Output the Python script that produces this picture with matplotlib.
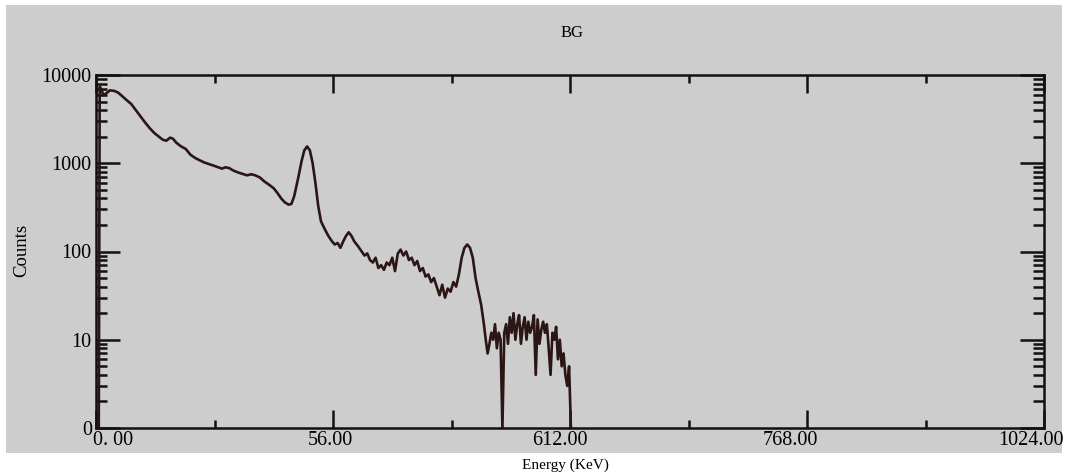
import matplotlib.pyplot as plt
import matplotlib.patches as patches
from matplotlib.ticker import FixedLocator, LogLocator, NullFormatter
from matplotlib.transforms import ScaledTranslation

# spectrum: channel (0..1024) and counts
channel = [3, 4, 6, 8, 11, 15, 20, 24, 28, 33, 38, 43, 48, 53, 58, 63, 68, 72, 76, 80,
           83, 87, 92, 97, 102, 107, 112, 117, 122, 127, 132, 136, 140, 144, 148, 153,
           158, 163, 168, 172, 177, 182, 187, 192, 196, 200, 204, 208, 211, 214, 218,
           222, 225, 228, 231, 234, 237, 240, 243, 247, 251, 255, 258, 261, 264, 267,
           270, 273, 276, 279, 283, 287, 290, 293, 296, 299, 302, 305, 308, 311, 314,
           317, 320, 323, 326, 329, 332, 335, 338, 341, 344, 347, 350, 353, 356, 359,
           362, 365, 368, 371, 374, 377, 380, 383, 386, 389, 392, 395, 398, 401, 404,
           407, 410, 413, 416, 419, 421, 423, 425, 427, 429, 431, 433, 435, 437, 439,
           441, 443, 445, 447, 449, 451, 453, 455, 457, 459, 461, 463, 465, 467, 469,
           471, 473, 475, 477, 479, 481, 483, 485, 487, 489, 491, 493, 495, 497, 499,
           501, 503, 505, 507, 509, 511, 513]
counts = [1, 7400, 6800, 5900, 6200, 6700, 6600, 6300, 5800, 5200, 4700, 4000, 3400,
          2900, 2500, 2200, 2000, 1850, 1800, 1950, 1900, 1700, 1550, 1450, 1250, 1150,
          1080, 1020, 980, 940, 900, 870, 900, 880, 830, 790, 760, 730, 750, 730, 690,
          620, 570, 520, 460, 400, 360, 340, 345, 420, 650, 1050, 1400, 1550, 1400,
          1000, 600, 330, 220, 180, 150, 130, 120, 125, 110, 130, 150, 165, 150, 130,
          115, 100, 90, 95, 80, 75, 85, 65, 70, 62, 75, 70, 85, 60, 95, 105, 90, 100,
          80, 85, 70, 78, 60, 65, 52, 55, 45, 50, 40, 32, 42, 30, 38, 35, 45, 40, 55,
          85, 110, 120, 110, 85, 50, 35, 25, 15, 10, 7, 9, 12, 10, 15, 8, 12, 10, 1,
          12, 15, 9, 18, 12, 20, 10, 15, 19, 9, 14, 18, 10, 16, 12, 14, 19, 4, 17, 9,
          13, 16, 12, 15, 8, 4, 12, 10, 14, 6, 10, 5, 7, 4, 3, 5, 1]

xtick_pos = [0, 256, 512, 768, 1024]
xtick_labels = ['0. 00', '56.00', '612.00', '768.00', '1024.00']
ytick_pos = [1, 10, 100, 1000, 10000]
ytick_labels = ['0', '10', '100', '1000', '10000']

plt.rcParams['font.family'] = ['Liberation Serif', 'DejaVu Serif']
gray = '#cdcdcd'
ink = '#111111'

fig = plt.figure(figsize=(10.71, 4.76), dpi=100)
fig.patch.set_facecolor('white')
fig.patches.append(patches.Rectangle((6 / 1071, 1 - 453 / 476), 1056 / 1071, 448 / 476,
                                     transform=fig.transFigure, facecolor=gray,
                                     edgecolor='none', zorder=-10))

ax = fig.add_axes([96 / 1071, 1 - 428 / 476, 948 / 1071, 353 / 476])
ax.set_zorder(1)
ax.set_facecolor(gray)
ax.plot(channel, counts, color='#2b1515', linewidth=1.9)

ax.set_yscale('log')
ax.set_xlim(0, 1024)
ax.set_ylim(1, 10000)

ax.xaxis.set_major_locator(FixedLocator(xtick_pos))
ax.set_xticklabels(xtick_labels)
ax.xaxis.set_minor_locator(FixedLocator([128, 384, 640, 896]))
ax.yaxis.set_major_locator(FixedLocator(ytick_pos))
ax.set_yticklabels(ytick_labels)
ax.yaxis.set_minor_locator(LogLocator(base=10, subs=range(2, 10)))
ax.yaxis.set_minor_formatter(NullFormatter())

ax.tick_params(which='both', direction='in', top=True, right=True, color=ink,
               width=1.8, labelsize=14.5, pad=3)
ax.tick_params(axis='x', which='major', length=13, pad=2)
ax.tick_params(axis='x', which='minor', length=6)
ax.tick_params(axis='y', which='major', length=17)
ax.tick_params(axis='y', which='minor', length=8)
for s in ax.spines.values():
    s.set_linewidth(1.8)
    s.set_color(ink)

# the original labels sit a little off their ticks
for lab, dx in zip(ax.get_xticklabels(), [17, -3, -10, -17, -13]):
    lab.set_transform(lab.get_transform() + ScaledTranslation(dx / 100, 0, fig.dpi_scale_trans))

fig.text(572 / 1071, 1 - 33 / 476, 'BG', ha='center', va='center', fontsize=12)
fig.text(22 / 1071, 1 - 250 / 476, 'Counts', ha='center', va='center',
         rotation=90, fontsize=13.5)
fig.text(565 / 1071, 1 - 465 / 476, 'Energy (KeV)', ha='center', va='center',
         fontsize=11)

fig.savefig('out.png', dpi=100)
